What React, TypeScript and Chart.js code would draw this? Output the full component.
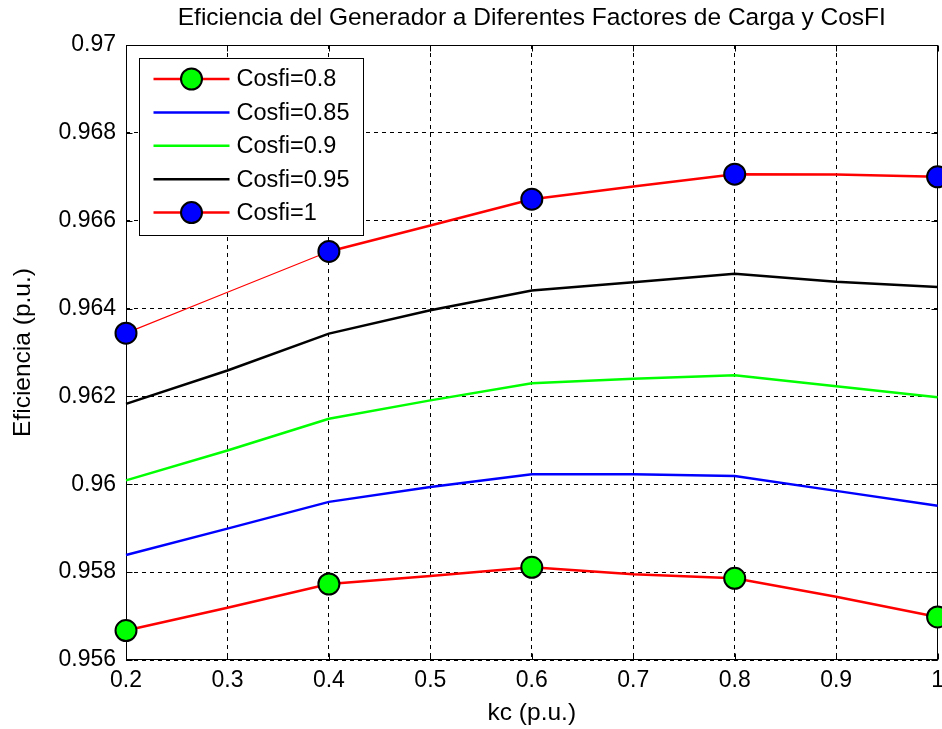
import React, { useEffect, useRef } from "react";
import { Chart, registerables } from "chart.js";

Chart.register(...registerables);

// ---- data ----
const KC = [0.2, 0.3, 0.4, 0.5, 0.6, 0.7, 0.8, 0.9, 1.0];
const MARKER_KC = [0.2, 0.4, 0.6, 0.8, 1.0];

const COSFI_080 = [0.95667, 0.95719, 0.95773, 0.95791, 0.95811, 0.95795, 0.95786, 0.95744, 0.95698];
const COSFI_085 = [0.95839, 0.95899, 0.9596, 0.95994, 0.96023, 0.96023, 0.96019, 0.95985, 0.95951];
const COSFI_090 = [0.96009, 0.96077, 0.96149, 0.96191, 0.9623, 0.9624, 0.96248, 0.96223, 0.96198];
const COSFI_095 = [0.96183, 0.96259, 0.96343, 0.96396, 0.96441, 0.9646, 0.96479, 0.96461, 0.96449];
const COSFI_100 = [0.96344, 0.96437, 0.9653, 0.96589, 0.96649, 0.96678, 0.96706, 0.96705, 0.967];

const SERIES_LABELS = ["Cosfi=0.8", "Cosfi=0.85", "Cosfi=0.9", "Cosfi=0.95", "Cosfi=1"];

const X_TICKS = [0.2, 0.3, 0.4, 0.5, 0.6, 0.7, 0.8, 0.9, 1.0];
const X_TICK_LABELS = ["0.2", "0.3", "0.4", "0.5", "0.6", "0.7", "0.8", "0.9", "1"];
const Y_TICKS = [0.956, 0.958, 0.96, 0.962, 0.964, 0.966, 0.968, 0.97];
const Y_TICK_LABELS = ["0.956", "0.958", "0.96", "0.962", "0.964", "0.966", "0.968", "0.97"];

const TITLE = "Eficiencia del Generador a Diferentes Factores de Carga y CosFI";
const X_TITLE = "kc (p.u.)";
const Y_TITLE = "Eficiencia (p.u.)";

const FONT = "'Liberation Sans', Arial, Helvetica, sans-serif";
const CANVAS_W = 951;
const CANVAS_H = 729;

const markerRadius = (ctx: any) => (MARKER_KC.includes(KC[ctx.dataIndex]) ? 10 : 0);

const framePlugin = {
  id: "matlabFrame",
  beforeDatasetsDraw(chart: any) {
    const { ctx, chartArea: a, scales } = chart;
    ctx.save();
    ctx.strokeStyle = "#000";
    ctx.lineWidth = 1;
    ctx.setLineDash([]);
    const l = Math.round(a.left) + 0.5;
    const r = Math.round(a.right) - 0.5;
    const t = Math.round(a.top) + 0.5;
    const b = Math.round(a.bottom) - 0.5;
    ctx.strokeRect(l, t, r - l, b - t);
    const tl = 6;
    ctx.beginPath();
    X_TICKS.forEach((v) => {
      const x = Math.round(scales.x.getPixelForValue(v)) + 0.5;
      ctx.moveTo(x, b);
      ctx.lineTo(x, b - tl);
      ctx.moveTo(x, t);
      ctx.lineTo(x, t + tl);
    });
    Y_TICKS.forEach((v) => {
      const y = Math.round(scales.y.getPixelForValue(v)) + 0.5;
      ctx.moveTo(l, y);
      ctx.lineTo(l + tl, y);
      ctx.moveTo(r, y);
      ctx.lineTo(r - tl, y);
    });
    ctx.stroke();
    ctx.restore();
  },
  afterDraw(chart: any) {
    const { ctx, chartArea: a } = chart;
    const bx = Math.round(a.left) + 13.5;
    const by = Math.round(a.top) + 13.5;
    const bw = 224;
    const bh = 177;
    ctx.save();
    ctx.fillStyle = "#fff";
    ctx.fillRect(bx, by, bw, bh);
    ctx.strokeStyle = "#000";
    ctx.lineWidth = 1;
    ctx.strokeRect(bx, by, bw, bh);
    const rowStep = 33.4;
    chart.data.datasets.forEach((ds: any, i: number) => {
      const y = by + 20.5 + i * rowStep;
      ctx.strokeStyle = ds.borderColor;
      ctx.lineWidth = 2.5;
      ctx.beginPath();
      ctx.moveTo(bx + 14, y);
      ctx.lineTo(bx + 90, y);
      ctx.stroke();
      if (ds.pointBackgroundColor) {
        ctx.beginPath();
        ctx.arc(bx + 52, y, 10.5, 0, Math.PI * 2);
        ctx.fillStyle = ds.pointBackgroundColor;
        ctx.fill();
        ctx.strokeStyle = "#000";
        ctx.lineWidth = 2;
        ctx.stroke();
      }
      ctx.fillStyle = "#000";
      ctx.font = `23.5px ${FONT}`;
      ctx.textAlign = "left";
      ctx.textBaseline = "middle";
      ctx.fillText(ds.label, bx + 97, y + 1);
    });
    ctx.restore();
  },
};

export default function App() {
  const ref = useRef<HTMLCanvasElement>(null);

  useEffect(() => {
    const canvas = ref.current;
    if (!canvas) return;
    Chart.defaults.font.family = FONT;
    Chart.defaults.color = "#000";

    const mk = (label: string, data: number[], color: string, marker?: string, extra: any = {}) => ({
      label,
      data: KC.map((x, i) => ({ x, y: data[i] })),
      borderColor: color,
      backgroundColor: color,
      borderWidth: 2.5,
      tension: 0,
      clip: false,
      pointRadius: marker ? (c: any) => (markerRadius(c) ? 10.5 : 0) : 0,
      pointHoverRadius: marker ? (c: any) => (markerRadius(c) ? 10.5 : 0) : 0,
      pointBackgroundColor: marker,
      pointBorderColor: "#000",
      pointBorderWidth: 2,
      ...extra,
    });

    const chart = new Chart(canvas, {
      type: "line",
      data: {
        datasets: [
          mk(SERIES_LABELS[0], COSFI_080, "#ff0000", "#00ff00"),
          mk(SERIES_LABELS[1], COSFI_085, "#0000ff"),
          mk(SERIES_LABELS[2], COSFI_090, "#00ff00"),
          mk(SERIES_LABELS[3], COSFI_095, "#000000"),
          mk(SERIES_LABELS[4], COSFI_100, "#ff0000", "#0000ff", {
            segment: { borderWidth: (c: any) => (c.p1DataIndex <= 2 ? 1.2 : 2.5) },
          }),
        ] as any,
      },
      options: {
        animation: false,
        responsive: false,
        events: [],
        layout: { padding: 0 },
        plugins: {
          legend: { display: false },
          tooltip: { enabled: false },
          title: {
            display: true,
            text: TITLE,
            fullSize: false,
            color: "#000",
            font: { size: 24.5, weight: "normal", family: FONT },
            padding: { top: 3.3, bottom: 12.3 },
          },
        },
        scales: {
          x: {
            type: "linear",
            min: 0.2,
            max: 1,
            afterBuildTicks: (s: any) => {
              s.ticks = X_TICKS.map((v) => ({ value: v }));
            },
            afterFit: (s: any) => {
              s.height = 69;
            },
            ticks: {
              autoSkip: false,
              maxRotation: 0,
              padding: 7,
              color: "#000",
              font: { size: 23, family: FONT },
              callback: (_v: any, i: number) => X_TICK_LABELS[i],
            },
            grid: { color: "#000", lineWidth: 1, drawTicks: false },
            border: { display: false, dash: [4, 4] },
            title: {
              display: true,
              text: X_TITLE,
              color: "#000",
              font: { size: 24.5, family: FONT },
              padding: { top: 0, bottom: 1.3 },
            },
          },
          y: {
            type: "linear",
            min: 0.956,
            max: 0.97,
            afterBuildTicks: (s: any) => {
              s.ticks = Y_TICKS.map((v) => ({ value: v }));
            },
            afterFit: (s: any) => {
              s.width = 126;
              s.paddingTop = 0;
              s.paddingBottom = 0;
            },
            ticks: {
              autoSkip: false,
              padding: 10,
              color: "#000",
              font: { size: 23, family: FONT },
              callback: (_v: any, i: number) => Y_TICK_LABELS[i],
            },
            grid: { color: "#000", lineWidth: 1, drawTicks: false },
            border: { display: false, dash: [4, 4] },
            title: {
              display: true,
              text: Y_TITLE,
              color: "#000",
              font: { size: 24.5, family: FONT },
              padding: { top: 9, bottom: 0 },
            },
          },
        },
      } as any,
      plugins: [framePlugin],
    });

    return () => chart.destroy();
  }, []);

  return (
    <div
      style={{
        position: "absolute",
        left: 0,
        top: 0,
        width: 942,
        height: CANVAS_H,
        overflow: "hidden",
        background: "#fff",
      }}
    >
      <canvas
        ref={ref}
        width={CANVAS_W}
        height={CANVAS_H}
        style={{ display: "block", width: CANVAS_W, height: CANVAS_H }}
      />
    </div>
  );
}
